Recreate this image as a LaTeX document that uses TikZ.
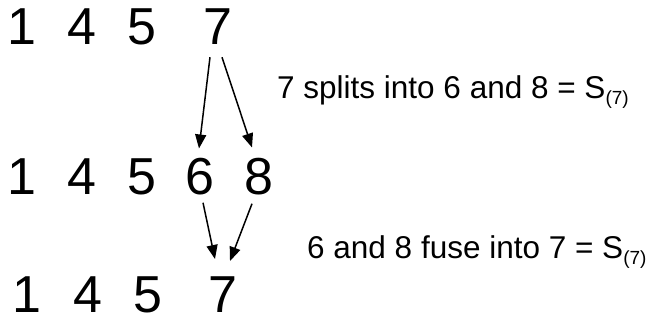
\documentclass[tikz,border=0pt]{standalone}
\usepackage{fontspec}
\setmainfont{Liberation Sans}
\usetikzlibrary{arrows.meta}
\begin{document}
\begin{tikzpicture}[x=1pt,y=-1pt,
  digit/.style={anchor=base,inner sep=0pt,font=\fontsize{52}{60}\selectfont},
  lbl/.style={anchor=base west,inner sep=0pt,font=\fontsize{31.5}{36}\selectfont},
  arr/.style={line width=1.5pt,-{Triangle[length=14pt,width=11pt]}}]
\useasboundingbox[fill=white] (0,0) rectangle (659,320);
% row 1
\node[digit] (a1) at (21.5,45) {1};
\node[digit] (a4) at (81.5,45) {4};
\node[digit] (a5) at (141.5,45) {5};
\node[digit] (a7) at (218,45) {7};
% row 2
\node[digit] (b1) at (21.5,195) {1};
\node[digit] (b4) at (81.5,195) {4};
\node[digit] (b5) at (141.5,195) {5};
\node[digit] (b6) at (199.5,195) {6};
\node[digit] (b8) at (259,195) {8};
% row 3
\node[digit] (c1) at (27,313) {1};
\node[digit] (c4) at (87.5,313) {4};
\node[digit] (c5) at (147.5,313) {5};
\node[digit] (c7) at (223,313) {7};
% labels
\node[lbl] (l1) at (277,99) {7 splits into 6 and 8 = S\raisebox{-6pt}{\fontsize{19}{19}\selectfont(7)}};
\node[lbl] (l2) at (307,259) {6 and 8 fuse into 7 = S\raisebox{-6pt}{\fontsize{19}{19}\selectfont(7)}};
% arrows
\draw[arr] ([xshift=-8pt,yshift=-12pt]a7.south) -- ([xshift=-0.5pt,yshift=10pt]b6.north);
\draw[arr] ([xshift=4pt,yshift=-12pt]a7.south) -- ([xshift=-7pt,yshift=11pt]b8.north);
\draw[arr] ([xshift=3.5pt,yshift=-7pt]b6.south) -- ([xshift=-8pt,yshift=18pt]c7.north);
\draw[arr] ([xshift=-7pt,yshift=-8pt]b8.south) -- ([xshift=7pt,yshift=16pt]c7.north);
\end{tikzpicture}
\end{document}
